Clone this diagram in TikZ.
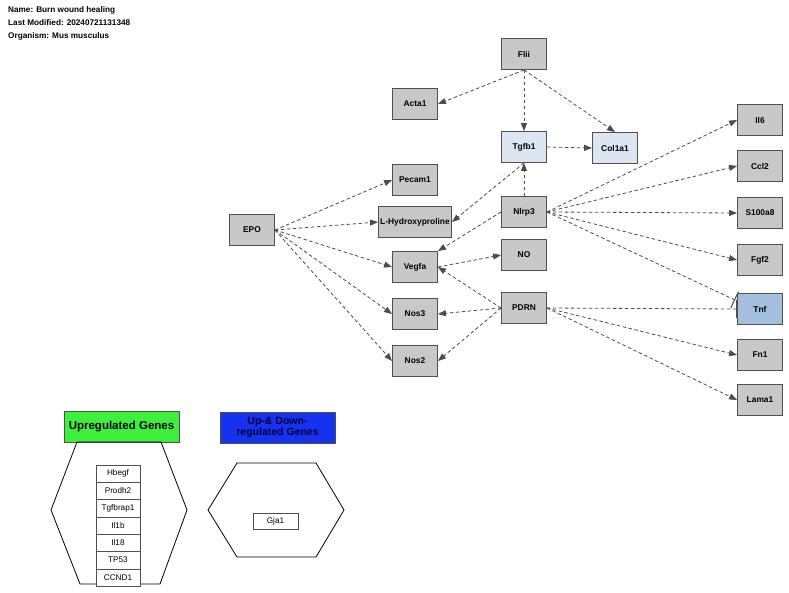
\documentclass[tikz,border=0pt]{standalone}
\usepackage{fontspec}
\setmainfont{Liberation Sans}
\usetikzlibrary{arrows.meta,calc}
\definecolor{genefill}{RGB}{200,200,200}
\definecolor{geneline}{RGB}{80,80,80}
\definecolor{lblue}{RGB}{220,230,242}
\definecolor{tnfblue}{RGB}{165,192,222}
\definecolor{upgreen}{RGB}{60,240,60}
\definecolor{udblue}{RGB}{20,50,240}
\tikzset{
  gene/.style={draw=geneline, line width=0.9pt, fill=genefill, minimum width=45pt, minimum height=31pt, inner sep=0pt, font=\bfseries\fontsize{8.4}{10}\selectfont},
  listbox/.style={draw=geneline, line width=0.6pt, fill=white, minimum width=44pt, minimum height=17.3pt, inner sep=0pt, font=\fontsize{8.2}{10}\selectfont},
  conn/.style={draw=black!70, line width=0.8pt, dash pattern=on 3.5pt off 2.5pt, -{Triangle[length=8pt,width=6pt]}},
  inhib/.style={draw=black!70, line width=0.8pt, dash pattern=on 3.5pt off 2.5pt, -{Bar[width=18pt,line width=1pt]}},
  hexa/.style={draw=black, line width=0.8pt},
  legend/.style={draw=geneline, line width=0.6pt, minimum width=115pt, minimum height=31pt, inner sep=0pt, align=center},
  hdr/.style={anchor=west, inner sep=0pt, font=\bfseries\fontsize{8.2}{9}\selectfont}
}
\begin{document}
\begin{tikzpicture}[x=1pt,y=-1pt]
\useasboundingbox (0,0) rectangle (789,592);
\fill[white] (0,0) rectangle (789,592);
% header
\node[hdr] (h1) at (8,10) {Name: Burn wound healing};
\node[hdr] (h2) at (8,23) {Last Modified: 20240721131348};
\node[hdr] (h3) at (8,36) {Organism: Mus musculus};
% nodes
\node[gene] (flii) at (524,54) {Flii};
\node[gene] (acta1) at (415,104) {Acta1};
\node[gene, fill=lblue] (tgfb1) at (524,147) {Tgfb1};
\node[gene, fill=lblue] (col1a1) at (615,148) {Col1a1};
\node[gene] (pecam1) at (415,180) {Pecam1};
\node[gene, minimum width=73pt] (lhyp) at (415,222) {L-Hydroxyproline};
\node[gene] (epo) at (252,230) {EPO};
\node[gene] (vegfa) at (415,267) {Vegfa};
\node[gene] (nos3) at (415,314) {Nos3};
\node[gene] (nos2) at (415,361) {Nos2};
\node[gene] (nlrp3) at (524,212) {Nlrp3};
\node[gene] (no) at (524,255) {NO};
\node[gene] (pdrn) at (524,308) {PDRN};
\node[gene] (il6) at (760,120) {Il6};
\node[gene] (ccl2) at (760,166) {Ccl2};
\node[gene] (s100a8) at (760,213) {S100a8};
\node[gene] (fgf2) at (760,260) {Fgf2};
\node[gene, fill=tnfblue] (tnf) at (760,309) {Tnf};
\node[gene] (fn1) at (760,355) {Fn1};
\node[gene] (lama1) at (760,400) {Lama1};
\coordinate (tnfup) at ($(tnf.west)+(-2,-9)$);
% edges
\draw[conn] (flii.south) -- (acta1.east);
\draw[conn] (flii.south) -- (tgfb1.north);
\draw[conn] (flii.south) -- (col1a1.north);
\draw[conn] (tgfb1.east) -- (col1a1.west);
\draw[conn] (epo.east) -- (pecam1.west);
\draw[conn] (epo.east) -- (lhyp.west);
\draw[conn] (epo.east) -- (vegfa.west);
\draw[conn] (epo.east) -- (nos3.west);
\draw[conn] (epo.east) -- (nos2.west);
\draw[conn] (nlrp3.north) -- (tgfb1.south);
\draw[conn] (tgfb1.south) -- (lhyp.east);
\draw[conn] (nlrp3.west) -- (vegfa.north east);
\draw[conn] (vegfa.east) -- (no.west);
\draw[conn] (pdrn.west) -- (vegfa.east);
\draw[conn] (pdrn.west) -- (nos3.east);
\draw[conn] (pdrn.west) -- (nos2.east);
\draw[conn] (nlrp3.east) -- (il6.west);
\draw[conn] (nlrp3.east) -- (ccl2.west);
\draw[conn] (nlrp3.east) -- (s100a8.west);
\draw[conn] (nlrp3.east) -- (fgf2.west);
\draw[inhib] (nlrp3.east) -- (tnfup);
\draw[inhib] (pdrn.east) -- (tnf.west);
\draw[conn] (pdrn.east) -- (fn1.west);
\draw[conn] (pdrn.east) -- (lama1.west);
% legends
\node[legend, fill=upgreen, font=\bfseries\fontsize{11.5}{12}\selectfont] (upl) at (121.5,426.5) {Upregulated Genes};
\draw[hexa] (77,442) -- (161,442) -- (187,510) -- (160,584) -- (80,584) -- (51,510) -- cycle;
\foreach \g [count=\i] in {Hbegf,Prodh2,Tgfbrap1,Il1b,Il18,TP53,CCND1} {
  \node[listbox] (ug\i) at (118,465+8.65+17.3*\i-17.3) {\g};
}
\node[legend, fill=udblue, text=black!80!blue, font=\bfseries\fontsize{10.5}{11}\selectfont] (udl) at (277.5,427.5) {Up-\& Down-\\regulated Genes};
\draw[hexa] (237,463) -- (316,463) -- (344,510) -- (316,557) -- (237,557) -- (208,510) -- cycle;
\node[listbox, minimum width=45pt, minimum height=16pt] (gja1) at (275.5,521) {Gja1};
\end{tikzpicture}
\end{document}
